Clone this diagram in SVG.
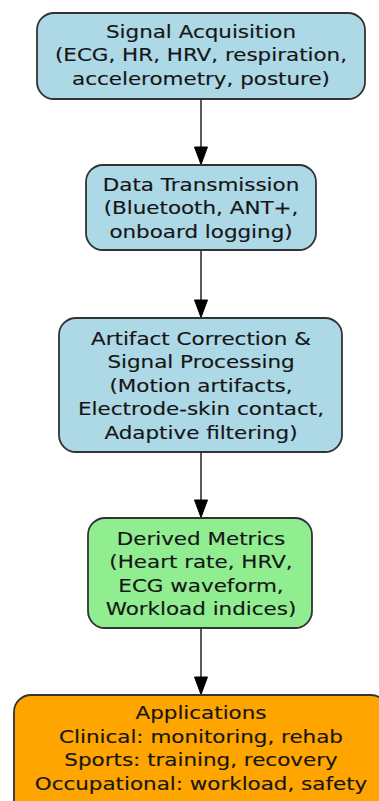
<svg xmlns="http://www.w3.org/2000/svg" width="379" height="801" viewBox="0 0 379 801">
  <defs>
    <style>
      .box { stroke: #333; stroke-width: 1.8; }
      .blue { fill: #add8e6; }
      .green { fill: #90ee90; }
      .orange { fill: #ffa500; }
      .lbl { font-family: "DejaVu Sans", "Liberation Sans", sans-serif; font-size: 18.5px; fill: #151515; stroke: #151515; stroke-width: 0.15; text-anchor: middle; }
      .edge { stroke: #333; stroke-width: 1.6; fill: none; }
      .head { fill: #000; stroke: #000; stroke-width: 1; stroke-linejoin: miter; }
    </style>
  </defs>
  <rect width="379" height="801" fill="#ffffff"/>

  <!-- connectors: straight drop between stacked stages, filled triangular heads -->
  <g id="edges">
    <line class="edge" x1="201" y1="99" x2="201" y2="148"/>
    <path class="head" d="M194.5,147 L207.5,147 L201,164.5 Z"/>
    <line class="edge" x1="201" y1="250" x2="201" y2="301"/>
    <path class="head" d="M194.5,300 L207.5,300 L201,317.5 Z"/>
    <line class="edge" x1="201" y1="452" x2="201" y2="501"/>
    <path class="head" d="M194.5,500 L207.5,500 L201,517.5 Z"/>
    <line class="edge" x1="201" y1="628" x2="201" y2="678"/>
    <path class="head" d="M194.5,677 L207.5,677 L201,694.5 Z"/>
  </g>

  <g id="signal-acquisition">
    <rect class="box blue" x="37" y="13" width="328" height="86" rx="17"/>
    <g transform="matrix(1.16,0,0,1,201,0)">
      <text class="lbl" x="0" y="38">Signal Acquisition</text>
      <text class="lbl" x="0" y="61.5">(ECG, HR, HRV, respiration,</text>
      <text class="lbl" x="0" y="85">accelerometry, posture)</text>
    </g>
  </g>

  <g id="data-transmission">
    <rect class="box blue" x="86" y="165" width="230" height="85" rx="17"/>
    <g transform="matrix(1.16,0,0,1,201,0)">
      <text class="lbl" x="0" y="191">Data Transmission</text>
      <text class="lbl" x="0" y="214.5">(Bluetooth, ANT+,</text>
      <text class="lbl" x="0" y="238">onboard logging)</text>
    </g>
  </g>

  <g id="artifact-correction">
    <rect class="box blue" x="59" y="318" width="283" height="134" rx="17"/>
    <g transform="matrix(1.16,0,0,1,201,0)">
      <text class="lbl" x="0" y="345">Artifact Correction &amp;</text>
      <text class="lbl" x="0" y="368.5">Signal Processing</text>
      <text class="lbl" x="0" y="392">(Motion artifacts,</text>
      <text class="lbl" x="0" y="415.5">Electrode-skin contact,</text>
      <text class="lbl" x="0" y="439">Adaptive filtering)</text>
    </g>
  </g>

  <g id="derived-metrics">
    <rect class="box green" x="88" y="518" width="224" height="110" rx="17"/>
    <g transform="matrix(1.16,0,0,1,201,0)">
      <text class="lbl" x="0" y="545">Derived Metrics</text>
      <text class="lbl" x="0" y="568.5">(Heart rate, HRV,</text>
      <text class="lbl" x="0" y="592">ECG waveform,</text>
      <text class="lbl" x="0" y="615.5">Workload indices)</text>
    </g>
  </g>

  <g id="applications">
    <rect class="box orange" x="14" y="695" width="374" height="130" rx="17"/>
    <g transform="matrix(1.16,0,0,1,201,0)">
      <text class="lbl" x="0" y="719.5">Applications</text>
      <text class="lbl" x="0" y="743">Clinical: monitoring, rehab</text>
      <text class="lbl" x="0" y="766.5">Sports: training, recovery</text>
      <text class="lbl" x="0" y="790">Occupational: workload, safety</text>
    </g>
  </g>
</svg>
